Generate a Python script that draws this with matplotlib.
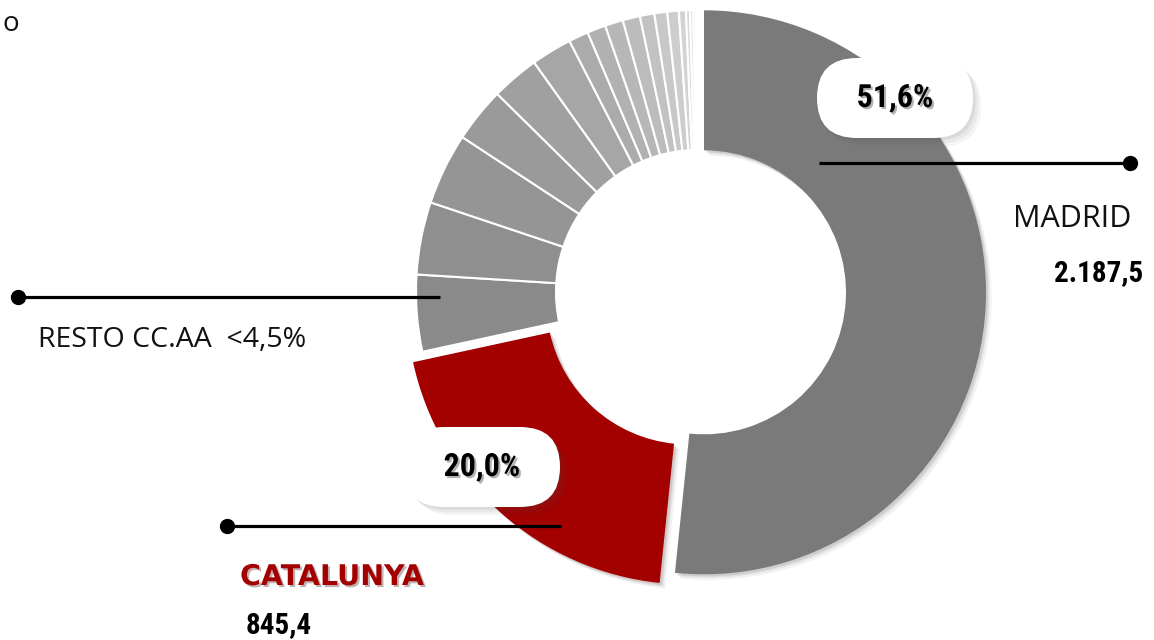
import numpy as np
import matplotlib
matplotlib.use('Agg')
import matplotlib.pyplot as plt
from matplotlib.patches import FancyBboxPatch
import matplotlib.patheffects as pe

# ---- data (millones) ----
main_regions = ['MADRID', 'CATALUNYA']
main_values = [2187.5, 845.4]
resto_values = [186, 176, 174, 133, 116, 99, 48, 45, 44, 42, 35, 31, 28, 17, 10, 8, 6, 5]
resto_label = 'RESTO CC.AA  <4,5%'
value_labels = ['2.187,5', '845,4']

values = main_values + resto_values
total = sum(values)
pct = [v / total * 100 for v in main_values]
pct_labels = [f'{p:.1f}%'.replace('.', ',') for p in pct]

# ---- figure ----
W, H = 1154, 640
fig = plt.figure(figsize=(W / 100, H / 100), dpi=100)
ax = fig.add_axes([0, 0, 1, 1])

def py(y):
    return H - y

grey_levels = np.linspace(0x8a, 0xea, len(resto_values)).astype(int)
resto_colors = ['#%02x%02x%02x' % (g, g, g) for g in grey_levels]
colors = ['#7a7a7a', '#a30000'] + resto_colors
explode = [6, 14] + [0] * len(resto_values)

wedges, _ = ax.pie(values, startangle=90, counterclock=False, radius=282,
                   center=(698, py(292)), explode=explode, colors=colors,
                   wedgeprops=dict(width=140, edgecolor='white', linewidth=1.5))
for w in wedges[:2]:
    w.set_linewidth(0)
    w.set_path_effects([pe.SimplePatchShadow(offset=(4, -4), alpha=0.06),
                        pe.SimplePatchShadow(offset=(2.5, -2.5), alpha=0.08),
                        pe.SimplePatchShadow(offset=(1.5, -1.5), alpha=0.1),
                        pe.Normal()])

ax.set_xlim(0, W)
ax.set_ylim(0, H)
ax.set_aspect('equal')
ax.axis('off')

num_font = ['Roboto Condensed', 'Liberation Sans Narrow', 'Roboto', 'DejaVu Sans']
light_font = ['Open Sans', 'Lato', 'DejaVu Sans']

# leader lines with dots
def leader(x0, x1, y, dot_x):
    ax.plot([x0, x1], [py(y), py(y)], color='black', lw=2.3, solid_capstyle='butt', zorder=5)
    ax.plot([dot_x], [py(y)], 'o', color='black', ms=10, zorder=6)

leader(819, 1132, 163, 1130)
leader(18, 440, 297, 18)
leader(227, 561, 526, 227)

# percentage pills
def pill(cx, cy, text):
    w, h = 156, 80
    box = FancyBboxPatch((cx - w / 2, py(cy) - h / 2), w, h,
                         boxstyle='round,pad=0,rounding_size=40',
                         facecolor='white', edgecolor='none', zorder=7)
    box.set_path_effects([pe.SimplePatchShadow(offset=(6, -6), alpha=0.05),
                          pe.SimplePatchShadow(offset=(4, -4), alpha=0.07),
                          pe.SimplePatchShadow(offset=(2, -2), alpha=0.09),
                          pe.Normal()])
    ax.add_patch(box)
    ax.text(cx, py(cy), text, ha='center', va='center', fontsize=23,
            fontweight='bold', family=num_font, color='black', zorder=8,
            path_effects=[pe.withSimplePatchShadow(offset=(1.5, -1.5), alpha=0.3)])

pill(895, 98, pct_labels[0])
pill(482, 467, pct_labels[1])

# labels
ax.text(1013, py(219), main_regions[0], ha='left', va='center', fontsize=22,
        fontweight='normal', family=light_font, color='#111111')
ax.text(1143, py(273), value_labels[0], ha='right', va='center', fontsize=21,
        fontweight='bold', family=num_font, color='black')
ax.text(38, py(340), resto_label, ha='left', va='center', fontsize=20.5,
        fontweight='normal', family=light_font, color='#111111')
ax.text(240, py(577), main_regions[1], ha='left', va='center', fontsize=20.5,
        fontweight='bold', family=['DejaVu Sans'], color='#a30000',
        path_effects=[pe.withSimplePatchShadow(offset=(1.5, -1.5), alpha=0.3)])
ax.text(246, py(625), value_labels[1], ha='left', va='center', fontsize=21,
        fontweight='bold', family=num_font, color='black')
ax.text(2, py(24), 'o', ha='left', va='center', fontsize=20,
        fontweight='normal', family=light_font, color='#111111')

fig.savefig('out.png', dpi=100)
